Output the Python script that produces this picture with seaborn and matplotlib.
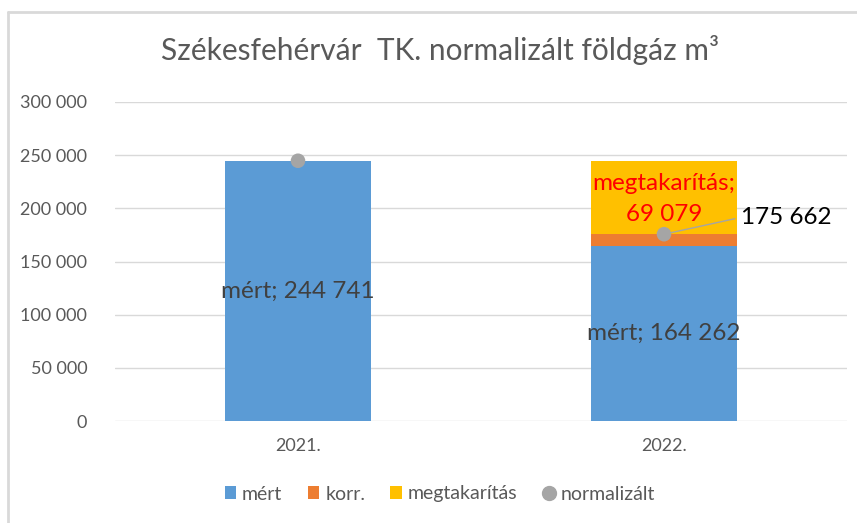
import matplotlib
matplotlib.use("Agg")
import matplotlib.pyplot as plt
from matplotlib.lines import Line2D
from matplotlib.patches import Patch
import seaborn as sns
import pandas as pd

categories = ["2021.", "2022."]
mert = [244741, 164262]
korr = [0, 11400]
megtakaritas = [0, 69079]
normalizalt = [244741, 175662]
yticks = [0, 50000, 100000, 150000, 200000, 250000, 300000]

C_BLUE = "#5B9BD5"
C_ORANGE = "#ED7D31"
C_YELLOW = "#FFC000"
C_GRAY = "#A5A5A5"
TXT = "#595959"

sns.set_theme(style="white")
plt.rcParams["font.family"] = ["Lato", "DejaVu Sans"]

df = pd.DataFrame({"ev": categories, "mert": mert, "korr": korr,
                   "megt": megtakaritas, "norm": normalizalt})
df["c1"] = df["mert"]
df["c2"] = df["mert"] + df["korr"]
df["c3"] = df["c2"] + df["megt"]
df["pos"] = range(len(categories))

fig = plt.figure(figsize=(8.57, 5.23), dpi=100)
ax = fig.add_axes([115/857, 1-421/523, (847-115)/857, (421-102)/523])

sns.barplot(data=df, x="ev", y="c3", color=C_YELLOW, width=0.4, ax=ax,
            saturation=1, zorder=2, linewidth=0)
sns.barplot(data=df, x="ev", y="c2", color=C_ORANGE, width=0.4, ax=ax,
            saturation=1, zorder=3, linewidth=0)
sns.barplot(data=df, x="ev", y="c1", color=C_BLUE, width=0.4, ax=ax,
            saturation=1, zorder=4, linewidth=0)
sns.scatterplot(data=df, x="pos", y="norm", color=C_GRAY, s=110,
                edgecolor="none", ax=ax, zorder=6)

ax.set_xlim(-0.5, 1.5)
ax.set_ylim(0, 300000)
ax.set_yticks(yticks)
ax.set_yticklabels([f"{v:,}".replace(",", " ") for v in yticks])
ax.set_xticks(range(len(categories)))
ax.set_xticklabels(categories)
ax.set_xlabel("")
ax.set_ylabel("")
ax.grid(axis="y", color="#D9D9D9", linewidth=1, zorder=0)
ax.set_axisbelow(True)
for s in ax.spines.values():
    s.set_visible(False)
ax.tick_params(axis="y", colors=TXT, labelsize=13, length=0, pad=20)
ax.tick_params(axis="x", colors=TXT, labelsize=13, length=0, pad=12)

def fmt(v):
    return f"{v:,}".replace(",", " ")

for i in range(len(categories)):
    ax.text(i, mert[i] / 2, f"mért; {fmt(mert[i])}", ha="center", va="center",
            fontsize=17.5, color="#404040", zorder=7)
i = 1
ax.text(i, korr[i] + mert[i] + megtakaritas[i] / 2 - 1500,
        f"megtakarítás;\n{fmt(megtakaritas[i])}", ha="center", va="center",
        fontsize=17.5, color="#FF0000", linespacing=1.55, zorder=7)
ax.annotate(fmt(normalizalt[i]), xy=(i, normalizalt[i]),
            xytext=(1.21, 191500), ha="left", va="center", fontsize=17.5,
            color="black", zorder=7,
            arrowprops=dict(arrowstyle="-", color=C_GRAY, lw=1,
                            shrinkA=2, shrinkB=0, relpos=(0, 0.5)))

fig.text(0.513, 1-50/523, "Székesfehérvár  TK. normalizált földgáz m³",
         ha="center", va="center", fontsize=21.5, color=TXT)

handles = [Patch(facecolor=C_BLUE, edgecolor="none"),
           Patch(facecolor=C_ORANGE, edgecolor="none"),
           Patch(facecolor=C_YELLOW, edgecolor="none"),
           Line2D([], [], marker="o", linestyle="none", color=C_GRAY,
                  markersize=10)]
fig.legend(handles, ["mért", "korr.", "megtakarítás", "normalizált"],
           loc="center", bbox_to_anchor=(0.513, 1-494/523), ncol=4,
           frameon=False, fontsize=14, labelcolor=TXT, handlelength=0.6,
           handleheight=0.6, handletextpad=0.3, columnspacing=1.3)

fig.add_artist(Line2D([8/857, 8/857], [0, 1-12/523], color="#D9D9D9",
                      lw=2, transform=fig.transFigure))
fig.add_artist(Line2D([8/857, 1], [1-12/523, 1-12/523], color="#D9D9D9",
                      lw=2, transform=fig.transFigure))

fig.savefig("out.png", dpi=100)
